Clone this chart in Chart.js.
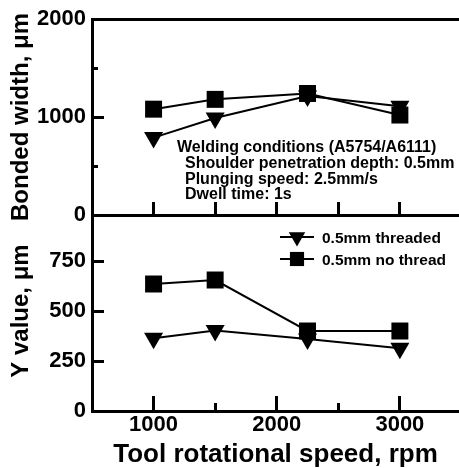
<!DOCTYPE html>
<html>
<head>
<meta charset="utf-8">
<script src="https://cdn.jsdelivr.net/npm/chart.js@4.4.0/dist/chart.umd.min.js"></script>
<style>
  html, body { margin: 0; padding: 0; background: #fff; }
  #wrap { position: relative; width: 459px; height: 468px; overflow: hidden; }
  canvas { position: absolute; left: 0; top: 0; }
</style>
</head>
<body>
<div id="wrap">
  <canvas id="bottomChart" width="459" height="468"></canvas>
  <canvas id="topChart" width="459" height="232"></canvas>
</div>
<script>
// values
const rpm = [1000, 1500, 2250, 3000];
const bondedThreaded = [790, 990, 1215, 1110];
const bondedNoThread = [1080, 1180, 1240, 1020];
const yThreaded = [364, 402, 360, 314];
const yNoThread = [635, 655, 400, 400];

const seriesNames = ["0.5mm threaded", "0.5mm no thread"];
const xMajorTicks = [1000, 2000, 3000];
const xMinorTicks = [1500, 2500];
const xTopTicks = [1000, 1500, 2000, 2500, 3000];
const bondedMajorTicks = [0, 1000, 2000];
const bondedMinorTicks = [500, 1500];
const yValueTicks = [0, 250, 500, 750];
const conditionLines = [
  "Welding conditions (A5754/A6111)",
  "Shoulder penetration depth: 0.5mm",
  "Plunging speed: 2.5mm/s",
  "Dwell time: 1s"
];

const FONT = "'Liberation Sans', Arial, sans-serif";
const X_MIN = 500, X_MAX = 3480;

const toPoints = (ys) => rpm.map((x, i) => ({ x: x, y: ys[i] }));
const fixTicks = (values) => (scale) => { scale.ticks = values.map((v) => ({ value: v })); };

// fixed box sizes, and no extra label padding pushed into the layout
const fitWidth = (w) => (s) => {
  s.width = w;
  s.paddingTop = 0; s.paddingBottom = 0; s.paddingLeft = 0; s.paddingRight = 0;
};
const fitHeight = (h) => (s) => {
  s.height = h;
  s.paddingTop = 0; s.paddingBottom = 0; s.paddingLeft = 0; s.paddingRight = 0;
};

function makeSets(threaded, noThread) {
  return [
    {
      label: seriesNames[0],
      data: toPoints(threaded),
      borderColor: "#000",
      borderWidth: 2,
      pointStyle: "triangle",
      pointRotation: 180,
      pointRadius: 11,
      pointBorderWidth: 0,
      pointBackgroundColor: "#000",
      legendRadius: 9.5,
      clip: false
    },
    {
      label: seriesNames[1],
      data: toPoints(noThread),
      borderColor: "#000",
      borderWidth: 2,
      pointStyle: "rect",
      pointRadius: 12,
      pointBorderWidth: 0,
      pointBackgroundColor: "#000",
      legendRadius: 10,
      clip: false
    }
  ];
}

function tickGrid(len) {
  return { display: true, drawOnChartArea: false, drawTicks: true, tickLength: len, tickWidth: 3, tickColor: "#000" };
}

// text block inside the upper panel
const conditionsPlugin = {
  id: "conditions",
  afterDraw(chart) {
    const ctx = chart.ctx;
    ctx.save();
    ctx.fillStyle = "#000";
    ctx.font = "bold 16px " + FONT;
    ctx.textBaseline = "alphabetic";
    const rows = [152, 168, 184, 199];
    conditionLines.forEach((t, i) => {
      ctx.fillText(t, i === 0 ? 177 : 185, rows[i]);
    });
    ctx.restore();
  }
};

// legend with the line running through the marker
const legendPlugin = {
  id: "lineLegend",
  afterDraw(chart) {
    const ctx = chart.ctx;
    const rows = [237, 259];
    chart.data.datasets.forEach((ds, i) => {
      const y = rows[i];
      ctx.save();
      ctx.strokeStyle = "#000";
      ctx.lineWidth = 2;
      ctx.beginPath();
      ctx.moveTo(280, y);
      ctx.lineTo(314, y);
      ctx.stroke();
      ctx.fillStyle = "#000";
      Chart.helpers.drawPoint(ctx, {
        pointStyle: ds.pointStyle,
        rotation: ds.pointRotation || 0,
        radius: ds.legendRadius,
        borderWidth: 0
      }, 297, y);
      ctx.font = "bold 15.5px " + FONT;
      ctx.textBaseline = "middle";
      ctx.fillText(ds.label, 322, rows[i] + 2);
      ctx.restore();
    });
  }
};

const topChart = new Chart(document.getElementById("topChart"), {
  type: "line",
  data: { datasets: makeSets(bondedThreaded, bondedNoThread) },
  options: {
    responsive: false,
    animation: false,
    devicePixelRatio: 1,
    layout: { autoPadding: false, padding: { top: 19, left: 0, right: 0, bottom: 0 } },
    plugins: { legend: { display: false }, tooltip: { enabled: false } },
    scales: {
      x: {
        type: "linear", min: X_MIN, max: X_MAX, position: "bottom",
        afterBuildTicks: fixTicks(xTopTicks),
        ticks: { display: false },
        grid: tickGrid(-13),
        border: { color: "#000", width: 3 },
        afterFit: fitHeight(17)
      },
      xTop: {
        type: "linear", min: X_MIN, max: X_MAX, position: "top",
        ticks: { display: false },
        grid: { display: false },
        border: { color: "#000", width: 3 },
        afterFit: fitHeight(0)
      },
      y: {
        min: 0, max: 2000, position: "left",
        afterBuildTicks: fixTicks(bondedMajorTicks),
        ticks: { color: "#000", padding: 18, font: { family: FONT, size: 22, weight: "bold" }, callback: (v) => String(v) },
        grid: tickGrid(-12),
        border: { color: "#000", width: 3 },
        title: { display: true, text: "Bonded width, μm", color: "#000", font: { family: FONT, size: 24, weight: "bold" }, padding: { top: 7, bottom: 0 } },
        afterFit: fitWidth(92)
      },
      yMinor: {
        min: 0, max: 2000, position: "left", weight: -1,
        afterBuildTicks: fixTicks(bondedMinorTicks),
        ticks: { display: false },
        grid: tickGrid(-6),
        border: { display: false },
        afterFit: fitWidth(0)
      }
    }
  },
  plugins: [conditionsPlugin]
});

const bottomChart = new Chart(document.getElementById("bottomChart"), {
  type: "line",
  data: { datasets: makeSets(yThreaded, yNoThread) },
  options: {
    responsive: false,
    animation: false,
    devicePixelRatio: 1,
    layout: { autoPadding: false, padding: { top: 211, left: 0, right: 0, bottom: 0 } },
    plugins: { legend: { display: false }, tooltip: { enabled: false } },
    scales: {
      x: {
        type: "linear", min: X_MIN, max: X_MAX, position: "bottom",
        afterBuildTicks: fixTicks(xMajorTicks),
        ticks: { color: "#000", padding: 16, maxRotation: 0, font: { family: FONT, size: 22, weight: "bold" }, callback: (v) => String(v) },
        grid: tickGrid(-15),
        border: { color: "#000", width: 3 },
        title: { display: true, text: "Tool rotational speed, rpm", color: "#000", font: { family: FONT, size: 26, weight: "bold", lineHeight: 1 }, padding: { top: 0, bottom: 0 } },
        afterFit: fitHeight(57)
      },
      xMinor: {
        type: "linear", min: X_MIN, max: X_MAX, position: "bottom", weight: -1,
        afterBuildTicks: fixTicks(xMinorTicks),
        ticks: { display: false },
        grid: tickGrid(-8),
        border: { display: false },
        afterFit: fitHeight(0)
      },
      y: {
        min: 0, max: 1000, position: "left",
        afterBuildTicks: fixTicks(yValueTicks),
        ticks: { color: "#000", padding: 18, font: { family: FONT, size: 22, weight: "bold" }, callback: (v) => String(v) },
        grid: tickGrid(-12),
        border: { color: "#000", width: 3 },
        title: { display: true, text: "Y value, μm", color: "#000", font: { family: FONT, size: 24, weight: "bold" }, padding: { top: 7, bottom: 0 } },
        afterFit: fitWidth(92)
      }
    }
  },
  plugins: [legendPlugin]
});
</script>
</body>
</html>
